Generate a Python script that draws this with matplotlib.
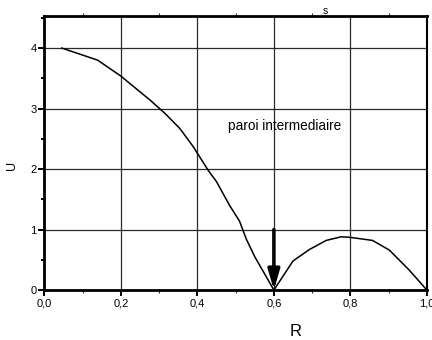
import matplotlib
matplotlib.use("Agg")
import matplotlib.pyplot as plt
from matplotlib.ticker import MultipleLocator, FormatStrFormatter

plt.rcParams["font.family"] = ["Liberation Sans", "DejaVu Sans"]

# velocity profile U(R) across the annulus
R = [0.045, 0.139, 0.199, 0.276, 0.315, 0.354, 0.389, 0.428, 0.45, 0.484, 0.51, 0.528,
     0.55, 0.6, 0.65, 0.693, 0.737, 0.776, 0.8, 0.858, 0.902, 0.954, 1.0]
U = [4.0, 3.80, 3.54, 3.14, 2.92, 2.67, 2.37, 1.98, 1.79, 1.40, 1.14, 0.84,
     0.55, 0.0, 0.48, 0.67, 0.82, 0.88, 0.87, 0.82, 0.66, 0.33, 0.0]

wall_r = 0.6
wall_u = 1.0

fig = plt.figure(figsize=(4.32, 3.40), dpi=100)
ax = fig.add_axes([0.103, 0.147, 0.885, 0.806])

ax.plot(R, U, color="black", lw=1.1, zorder=3)
ax.annotate("", xy=(wall_r, 0.0), xytext=(wall_r, wall_u),
            arrowprops=dict(arrowstyle="-|>,head_width=0.35,head_length=1.2",
                            color="black", lw=2.5, shrinkA=0, shrinkB=0),
            zorder=4)
ax.text(0.48, 2.64, "paroi intermediaire", fontsize=9.8)
ax.text(0.735, 4.57, "s", fontsize=7.5, ha="center", va="baseline")

ax.set_xlim(0, 1.0)
ax.set_ylim(0, 4.53)
ax.xaxis.set_major_locator(MultipleLocator(0.2))
ax.xaxis.set_minor_locator(MultipleLocator(0.1))
ax.yaxis.set_major_locator(MultipleLocator(1))
ax.yaxis.set_minor_locator(MultipleLocator(0.5))
ax.xaxis.set_major_formatter(lambda v, p: f"{v:.1f}".replace(".", ","))
ax.yaxis.set_major_formatter(FormatStrFormatter("%d"))

ax.grid(True, which="major", color="#2a2a2a", lw=0.9)
ax.set_axisbelow(True)

for side, lw in (("left", 2.0), ("bottom", 2.0), ("top", 2.0), ("right", 1.5)):
    ax.spines[side].set_linewidth(lw)

ax.tick_params(which="both", direction="out", labelsize=8, width=1.4, pad=1.5)
ax.tick_params(which="major", length=4.3)
ax.tick_params(which="minor", length=2.5)
ax.tick_params(axis="x", which="minor", top=True, width=0.6, length=2)

ax.set_xlabel("R", fontsize=12)
ax.xaxis.set_label_coords(0.657, -0.152, transform=ax.transAxes)
ax.xaxis.label.set_va("center")
ax.set_ylabel("U", fontsize=9)
ax.yaxis.set_label_coords(-0.085, 0.455, transform=ax.transAxes)
ax.yaxis.label.set_va("center")

fig.savefig("out.png", dpi=100)
